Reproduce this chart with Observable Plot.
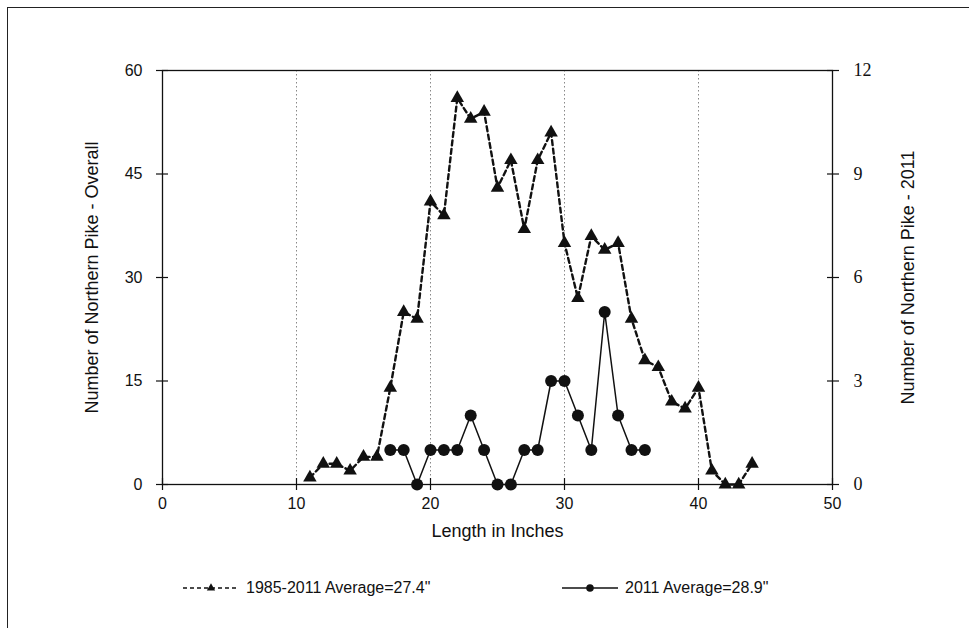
<!DOCTYPE html>
<html>
<head>
<meta charset="utf-8">
<script src="https://cdn.jsdelivr.net/npm/d3@7"></script>
<script src="https://cdn.jsdelivr.net/npm/@observablehq/plot@0.6"></script>
<style>
  body { margin: 0; background: #fff; font-family: "Liberation Sans", Arial, sans-serif; }
  #wrap { position: relative; width: 969px; height: 628px; overflow: hidden; background: #fff; }
  #border { position: absolute; left: 7px; top: 7px; width: 980px; height: 640px;
            border-left: 1.5px solid #222; border-top: 1.5px solid #222; }
  #chart { position: absolute; left: 0; top: 0; }
  .leg { position: absolute; top: 578px; height: 20px; display: flex; align-items: center;
         font-size: 16px; color: #111; white-space: nowrap; }
  .leg svg { margin-right: 7px; }
</style>
</head>
<body>
<div id="wrap">
  <div id="border"></div>
  <div id="chart"></div>
  <div class="leg" id="leg1" style="left:183px;"></div>
  <div class="leg" id="leg2" style="left:562px;"></div>
</div>
<script>
// ---- data ----
const lengthsOverall = [11,12,13,14,15,16,17,18,19,20,21,22,23,24,25,26,27,28,29,30,31,32,33,34,35,36,37,38,39,40,41,42,43,44];
const countsOverall  = [1, 3, 3, 2, 4, 4, 14,25,24,41,39,56,53,54,43,47,37,47,51,35,27,36,34,35,24,18,17,12,11,14,2, 0, 0, 3];
const lengths2011 = [17,18,19,20,21,22,23,24,25,26,27,28,29,30,31,32,33,34,35,36];
const counts2011  = [1, 1, 0, 1, 1, 1, 2, 1, 0, 0, 1, 1, 3, 3, 2, 1, 5, 2, 1, 1];
const xTicks = [0,10,20,30,40,50];
const yLeftTicks = [0,15,30,45,60];
const yRightTicks = [0,3,6,9,12];
const gridX = [10,20,30,40];
const seriesNames = ["1985-2011 Average=27.4\"", "2011 Average=28.9\""];
const xTitle = "Length in Inches";
const yLeftTitle = "Number of Northern Pike - Overall";
const yRightTitle = "Number of Northern Pike - 2011";

const ratio = yLeftTicks[yLeftTicks.length-1] / yRightTicks[yRightTicks.length-1];
const overall = lengthsOverall.map((x, i) => ({x, y: countsOverall[i]}));
const y2011 = lengths2011.map((x, i) => ({x, y: counts2011[i] * ratio}));

const sans = "'Liberation Sans', Arial, sans-serif";
const serif = "'Liberation Serif', 'Times New Roman', serif";

const chart = Plot.plot({
  width: 969,
  height: 560,
  marginLeft: 162,
  marginRight: 137,
  marginTop: 70,
  marginBottom: 76,
  style: { fontFamily: sans, fontSize: "16px", color: "#111", background: "transparent" },
  x: { domain: [0, 50] },
  y: { domain: [0, 60] },
  marks: [
    Plot.ruleX(gridX, { stroke: "#888", strokeDasharray: "1.5,2.5", strokeWidth: 1 }),
    Plot.frame({ stroke: "#111", strokeWidth: 1.3 }),
    Plot.axisX({ ticks: xTicks, tickSize: 12, dy: -6, tickPadding: 7, label: null, fontSize: 16, strokeWidth: 1.2 }),
    Plot.axisY({ anchor: "left", ticks: yLeftTicks, tickSize: 12, dx: 6, tickPadding: 14, label: null, fontSize: 16, strokeWidth: 1.2 }),
    Plot.axisY({ anchor: "right", ticks: yLeftTicks, tickFormat: d => d / ratio, tickSize: 12, dx: -6, tickPadding: 15, label: null, fontSize: 18, fontFamily: serif, strokeWidth: 1.2 }),
    Plot.text([xTitle], { frameAnchor: "bottom", dy: 52, fontSize: 18, fill: "#111" }),
    Plot.text([yLeftTitle], { frameAnchor: "left", textAnchor: "middle", rotate: -90, dx: -70, fontSize: 18, fill: "#111" }),
    Plot.text([yRightTitle], { frameAnchor: "right", textAnchor: "middle", rotate: -90, dx: 76, fontSize: 18, fill: "#111" }),
    Plot.line(overall, { x: "x", y: "y", stroke: "#111", strokeWidth: 2.4, strokeDasharray: "5,3.5" }),
    Plot.dot(overall, { x: "x", y: "y", symbol: "triangle", fill: "#111", r: 5 }),
    Plot.line(y2011, { x: "x", y: "y", stroke: "#111", strokeWidth: 1.5 }),
    Plot.dot(y2011, { x: "x", y: "y", symbol: "circle", fill: "#111", r: 6 })
  ]
});
document.getElementById("chart").appendChild(chart);

// ---- legend ----
function sample(dashed, sym) {
  const w = 56, h = 20;
  const s = d3.create("svg").attr("width", w).attr("height", h);
  s.append("line").attr("x1", 0).attr("x2", w).attr("y1", h/2).attr("y2", h/2)
    .attr("stroke", "#111").attr("stroke-width", 1.5)
    .attr("stroke-dasharray", dashed ? "4,3" : null);
  s.append("path").attr("transform", `translate(${w/2},${h/2})`)
    .attr("d", d3.symbol(sym === "triangle" ? d3.symbolTriangle : d3.symbolCircle, sym === "triangle" ? 30 : 45)())
    .attr("fill", "#111");
  return s.node();
}
const l1 = document.getElementById("leg1");
l1.appendChild(sample(true, "triangle"));
l1.appendChild(document.createTextNode(seriesNames[0]));
const l2 = document.getElementById("leg2");
l2.appendChild(sample(false, "circle"));
l2.appendChild(document.createTextNode(seriesNames[1]));
</script>
</body>
</html>
